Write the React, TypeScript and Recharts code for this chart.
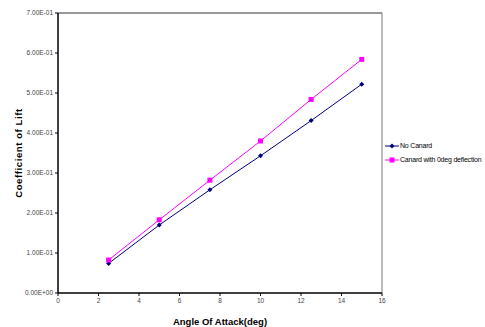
import { LineChart, Line, XAxis, YAxis, ReferenceLine } from 'recharts'

const angles = [2.5, 5, 7.5, 10, 12.5, 15]
const noCanard = [0.074, 0.17, 0.258, 0.343, 0.431, 0.522]
const canard0 = [0.0825, 0.183, 0.282, 0.38, 0.484, 0.584]
const xTicks = [0, 2, 4, 6, 8, 10, 12, 14, 16]
const yTicks = [0, 0.1, 0.2, 0.3, 0.4, 0.5, 0.6, 0.7]

const data = angles.map((a, i) => ({ angle: a, noCanard: noCanard[i], canard: canard0[i] }))

const NAVY = '#000080'
const MAGENTA = '#ff00ff'
const FONT = '"Liberation Sans", Arial, sans-serif'

const series = [
  { label: 'No Canard', color: NAVY, sq: false },
  { label: 'Canard with 0deg deflection', color: MAGENTA, sq: true },
]

const fmtSci = (v: number) => {
  if (v === 0) return '0.00E+00'
  const e = Math.floor(Math.log10(Math.abs(v)) + 1e-9)
  const m = v / Math.pow(10, e)
  const sign = e < 0 ? '-' : '+'
  return `${m.toFixed(2)}E${sign}${String(Math.abs(e)).padStart(2, '0')}`
}

const Diamond = (props: any) => {
  const { cx, cy } = props
  if (cx == null || cy == null) return null
  return <path d={`M${cx},${cy - 2.5}L${cx + 2.5},${cy}L${cx},${cy + 2.5}L${cx - 2.5},${cy}Z`} fill={NAVY} />
}

const Square = (props: any) => {
  const { cx, cy } = props
  if (cx == null || cy == null) return null
  return <rect x={cx - 2.5} y={cy - 2.5} width={5} height={5} fill={MAGENTA} />
}

// legend sits outside the plot, to the right of the frame
const LegendBox = () => (
  <div style={{ position: 'absolute', left: 385, top: 139, fontFamily: FONT, fontSize: 7, letterSpacing: -0.2, color: '#000', lineHeight: '14px' }}>
    {series.map(it => (
      <div key={it.label} style={{ display: 'flex', alignItems: 'center', whiteSpace: 'nowrap' }}>
        <svg width={14} height={6} style={{ marginRight: 1 }}>
          <line x1={0} y1={3} x2={14} y2={3} stroke={it.color} strokeWidth={1} />
          {it.sq
            ? <rect x={4.5} y={0.5} width={5} height={5} fill={it.color} />
            : <path d="M7,0.5L9.5,3L7,5.5L4.5,3Z" fill={it.color} />}
        </svg>
        <span>{it.label}</span>
      </div>
    ))}
  </div>
)

export default function App() {
  return (
    <div style={{ position: 'absolute', left: 0, top: 0, width: 485, height: 327, background: '#fff' }}>
      <LineChart
        width={485}
        height={327}
        data={data}
        margin={{ top: 13, right: 103, left: 0, bottom: 0 }}
      >
        <XAxis
          dataKey="angle"
          type="number"
          domain={[0, 16]}
          ticks={xTicks}
          height={34}
          tickSize={3}
          axisLine={{ stroke: '#000', strokeWidth: 1.5 }}
          tickLine={{ stroke: '#000' }}
          tick={{ fontSize: 6.5, fill: '#444', fontFamily: FONT }}
          label={{ value: 'Angle Of Attack(deg)', position: 'insideBottom', offset: 2, fontSize: 9.5, fontWeight: 'bold', fill: '#000', fontFamily: FONT }}
        />
        <YAxis
          type="number"
          domain={[0, 0.7]}
          ticks={yTicks}
          width={58}
          tickSize={3}
          interval={0}
          tickFormatter={fmtSci}
          axisLine={{ stroke: '#000', strokeWidth: 1.5 }}
          tickLine={{ stroke: '#000' }}
          tick={{ fontSize: 6.5, fill: '#444', fontFamily: FONT }}
          label={{ value: 'Coefficient of Lift', angle: -90, position: 'insideLeft', offset: 19, fontSize: 9.5, fontWeight: 'bold', fill: '#000', fontFamily: FONT, letterSpacing: 0.6, style: { textAnchor: 'middle' } }}
        />
        <ReferenceLine y={0.7} stroke="#777" strokeWidth={1.5} />
        <ReferenceLine x={16} stroke="#777" strokeWidth={1} />
        <Line
          dataKey="noCanard"
          name="No Canard"
          stroke={NAVY}
          strokeWidth={1}
          dot={<Diamond />}
          activeDot={false}
          isAnimationActive={false}
        />
        <Line
          dataKey="canard"
          name="Canard with 0deg deflection"
          stroke={MAGENTA}
          strokeWidth={1}
          dot={<Square />}
          activeDot={false}
          isAnimationActive={false}
        />
      </LineChart>
      <LegendBox />
    </div>
  )
}
